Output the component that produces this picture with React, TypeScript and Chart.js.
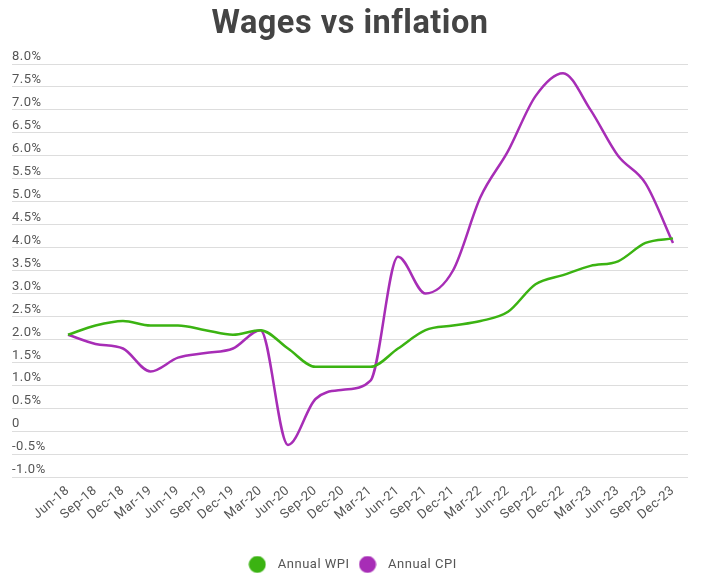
import React, { useEffect, useRef } from "react";
import { Chart, registerables } from "chart.js";

Chart.register(...registerables);

const quarters = [
  "Jun-18", "Sep-18", "Dec-18", "Mar-19", "Jun-19", "Sep-19", "Dec-19", "Mar-20",
  "Jun-20", "Sep-20", "Dec-20", "Mar-21", "Jun-21", "Sep-21", "Dec-21", "Mar-22",
  "Jun-22", "Sep-22", "Dec-22", "Mar-23", "Jun-23", "Sep-23", "Dec-23",
];

const annualWPI = [
  2.1, 2.3, 2.4, 2.3, 2.3, 2.2, 2.1, 2.2, 1.8, 1.4, 1.4, 1.4, 1.8, 2.2, 2.3, 2.4,
  2.6, 3.2, 3.4, 3.6, 3.7, 4.1, 4.2,
];

const annualCPI = [
  2.1, 1.9, 1.8, 1.3, 1.6, 1.7, 1.8, 2.2, -0.3, 0.7, 0.9, 1.1, 3.8, 3.0, 3.5, 5.1,
  6.1, 7.3, 7.8, 7.0, 6.0, 5.4, 4.1,
];

const seriesNames = ["Annual WPI", "Annual CPI"];
const seriesColors = ["#3bb312", "#a72db6"];

const yMin = -1;
const yMax = 8;
const yStep = 0.5;

function makeDot(color: string): HTMLCanvasElement {
  const c = document.createElement("canvas");
  c.width = 18;
  c.height = 18;
  const g = c.getContext("2d")!;
  g.fillStyle = color;
  g.beginPath();
  g.arc(9, 9, 8.5, 0, Math.PI * 2);
  g.fill();
  return c;
}

const spacingPlugin = {
  id: "letterSpacing",
  beforeUpdate(chart: any) {
    (chart.ctx as any).letterSpacing = "0.5px";
  },
  beforeLayout(chart: any) {
    (chart.ctx as any).letterSpacing = "0.5px";
  },
  beforeDraw(chart: any) {
    (chart.ctx as any).letterSpacing = "0.5px";
  },
};

export default function App() {
  const ref = useRef<HTMLCanvasElement | null>(null);

  useEffect(() => {
    if (!ref.current) return;
    const font = "Roboto";
    const series = [annualWPI, annualCPI];
    const chart = new Chart(ref.current, {
      type: "line",
      plugins: [spacingPlugin],
      data: {
        datasets: series.map((vals, i) => ({
          label: seriesNames[i],
          data: vals.map((v, k) => ({ x: k, y: v })),
          borderColor: seriesColors[i],
          backgroundColor: seriesColors[i],
          borderWidth: 2.5,
          pointRadius: 0,
          pointHoverRadius: 0,
          pointStyle: makeDot(seriesColors[i]) as any,
          cubicInterpolationMode: "monotone" as const,
          fill: false,
        })),
      },
      options: {
        animation: false,
        responsive: true,
        maintainAspectRatio: false,
        layout: { padding: { left: 4, right: 18, top: 0, bottom: -8 } },
        plugins: {
          title: {
            display: true,
            text: "Wages vs inflation",
            color: "#444444",
            font: { family: font, size: 32.5, weight: "bold", lineHeight: 1 },
            padding: { top: 0.5, bottom: 23 },
          },
          legend: {
            position: "bottom",
            labels: {
              usePointStyle: true,
              pointStyleWidth: 28,
              padding: 4,
              color: "#555555",
              font: { family: font, size: 13 },
            },
          },
          tooltip: { enabled: false },
        },
        scales: {
          x: {
            type: "linear",
            min: -2.036,
            max: 22.545,
            afterBuildTicks: (axis: any) => {
              axis.ticks = quarters.map((_, i) => ({ value: i }));
            },
            afterFit: (axis: any) => {
              axis.height = 77;
            },
            grid: { display: false, drawTicks: false },
            border: { display: false },
            ticks: {
              autoSkip: false,
              minRotation: 40,
              maxRotation: 40,
              padding: 6,
              color: "#555555",
              font: { family: font, size: 13 },
              callback: (value: any) => quarters[Math.round(Number(value))] ?? "",
            },
          },
          y: {
            min: yMin,
            max: yMax,
            grid: { color: "#dddddd", lineWidth: 1, drawTicks: false },
            border: { display: false },
            ticks: {
              stepSize: yStep,
              mirror: true,
              padding: 0,
              labelOffset: -7,
              color: "#555555",
              font: { family: font, size: 13 },
              callback: (value: any) => {
                const v = Number(value);
                return v === 0 ? "0" : v.toFixed(1) + "%";
              },
            },
          },
        },
      },
    });
    return () => chart.destroy();
  }, []);

  return (
    <div style={{ position: "relative", width: "100%", height: 565 }}>
      <canvas ref={ref} />
    </div>
  );
}
